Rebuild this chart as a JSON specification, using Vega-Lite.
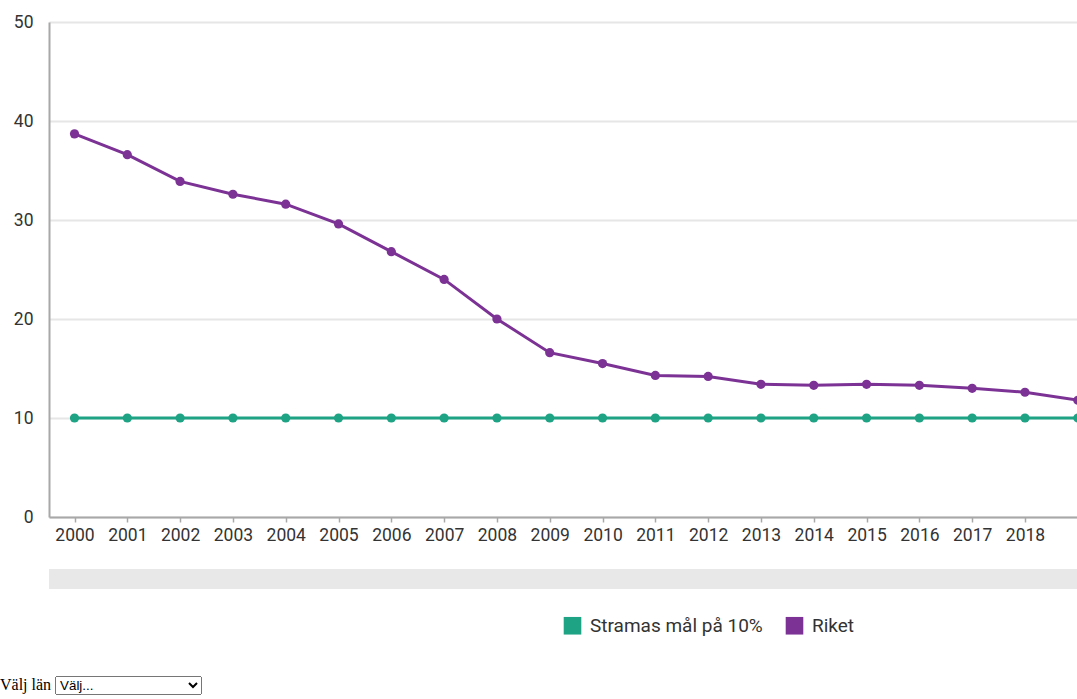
{
  "$schema": "https://vega.github.io/schema/vega-lite/v6.json",
  "autosize": {"type": "pad"},
  "padding": {"left": 13, "top": 13, "right": 0, "bottom": 40},
  "background": "white",
  "config": {
    "font": "Roboto",
    "view": {"stroke": null}
  },
  "bounds": "flush",
  "spacing": 52,
  "params": [
    {"name": "lan", "value": "Välj...", "bind": {"input": "select", "options": ["Välj...", "Stockholms län", "Uppsala län", "Skåne län", "Västra Götalands län"], "name": "Välj län "}}
  ],
  "vconcat": [
    {
      "width": 1028,
      "height": 495,
      "data": {"values": [
        {"year": 2000, "series": "Stramas mål på 10%", "value": 10},
        {"year": 2001, "series": "Stramas mål på 10%", "value": 10},
        {"year": 2002, "series": "Stramas mål på 10%", "value": 10},
        {"year": 2003, "series": "Stramas mål på 10%", "value": 10},
        {"year": 2004, "series": "Stramas mål på 10%", "value": 10},
        {"year": 2005, "series": "Stramas mål på 10%", "value": 10},
        {"year": 2006, "series": "Stramas mål på 10%", "value": 10},
        {"year": 2007, "series": "Stramas mål på 10%", "value": 10},
        {"year": 2008, "series": "Stramas mål på 10%", "value": 10},
        {"year": 2009, "series": "Stramas mål på 10%", "value": 10},
        {"year": 2010, "series": "Stramas mål på 10%", "value": 10},
        {"year": 2011, "series": "Stramas mål på 10%", "value": 10},
        {"year": 2012, "series": "Stramas mål på 10%", "value": 10},
        {"year": 2013, "series": "Stramas mål på 10%", "value": 10},
        {"year": 2014, "series": "Stramas mål på 10%", "value": 10},
        {"year": 2015, "series": "Stramas mål på 10%", "value": 10},
        {"year": 2016, "series": "Stramas mål på 10%", "value": 10},
        {"year": 2017, "series": "Stramas mål på 10%", "value": 10},
        {"year": 2018, "series": "Stramas mål på 10%", "value": 10},
        {"year": 2019, "series": "Stramas mål på 10%", "value": 10},
        {"year": 2000, "series": "Riket", "value": 38.7},
        {"year": 2001, "series": "Riket", "value": 36.6},
        {"year": 2002, "series": "Riket", "value": 33.9},
        {"year": 2003, "series": "Riket", "value": 32.6},
        {"year": 2004, "series": "Riket", "value": 31.6},
        {"year": 2005, "series": "Riket", "value": 29.6},
        {"year": 2006, "series": "Riket", "value": 26.8},
        {"year": 2007, "series": "Riket", "value": 24.0},
        {"year": 2008, "series": "Riket", "value": 20.0},
        {"year": 2009, "series": "Riket", "value": 16.6},
        {"year": 2010, "series": "Riket", "value": 15.5},
        {"year": 2011, "series": "Riket", "value": 14.3},
        {"year": 2012, "series": "Riket", "value": 14.2},
        {"year": 2013, "series": "Riket", "value": 13.4},
        {"year": 2014, "series": "Riket", "value": 13.3},
        {"year": 2015, "series": "Riket", "value": 13.4},
        {"year": 2016, "series": "Riket", "value": 13.3},
        {"year": 2017, "series": "Riket", "value": 13.0},
        {"year": 2018, "series": "Riket", "value": 12.6},
        {"year": 2019, "series": "Riket", "value": 11.8}
      ]},
      "encoding": {
        "x": {
          "field": "year", "type": "quantitative",
          "scale": {"domain": [1999.517, 2018.985], "nice": false, "zero": false},
          "axis": {
            "title": null,
            "values": [2000, 2001, 2002, 2003, 2004, 2005, 2006, 2007, 2008, 2009, 2010, 2011, 2012, 2013, 2014, 2015, 2016, 2017, 2018],
            "format": "d", "grid": false, "domainColor": "#a8a8a8", "domainWidth": 2,
            "tickColor": "#a8a8a8", "tickSize": 5, "tickWidth": 1.5, "labelPadding": 4,
            "labelFontSize": 17.5, "labelColor": "#333333", "labelFlush": false, "labelOverlap": false
          }
        },
        "y": {
          "field": "value", "type": "quantitative",
          "scale": {"domain": [0, 50], "nice": false},
          "axis": {
            "title": null, "values": [0, 10, 20, 30, 40, 50], "tickSize": 0, "labelPadding": 16,
            "gridColor": "#e6e6e6", "gridWidth": 2, "domainColor": "#a8a8a8", "domainWidth": 2,
            "labelFontSize": 17.5, "labelColor": "#333333"
          }
        },
        "color": {
          "field": "series", "type": "nominal",
          "scale": {"domain": ["Stramas mål på 10%", "Riket"], "range": ["#1fa385", "#7b3294"]},
          "legend": {
            "orient": "none", "legendX": 514, "legendY": 594, "direction": "horizontal",
            "title": null, "symbolType": "square", "symbolSize": 310, "symbolStrokeWidth": 0,
            "symbolOpacity": 1, "labelFontSize": 19, "labelColor": "#333333", "labelLimit": 400,
            "columnPadding": 22, "labelOffset": 8, "padding": 0
          }
        }
      },
      "layer": [
        {"mark": {"type": "line", "strokeWidth": 3, "clip": true}},
        {"mark": {"type": "point", "filled": true, "size": 85, "opacity": 1, "clip": true}}
      ]
    },
    {
      "width": 1028,
      "height": 20,
      "view": {"fill": "#e8e8e8", "stroke": null},
      "data": {"values": [{}]},
      "mark": {"type": "point", "opacity": 0},
      "encoding": {}
    }
  ]
}
